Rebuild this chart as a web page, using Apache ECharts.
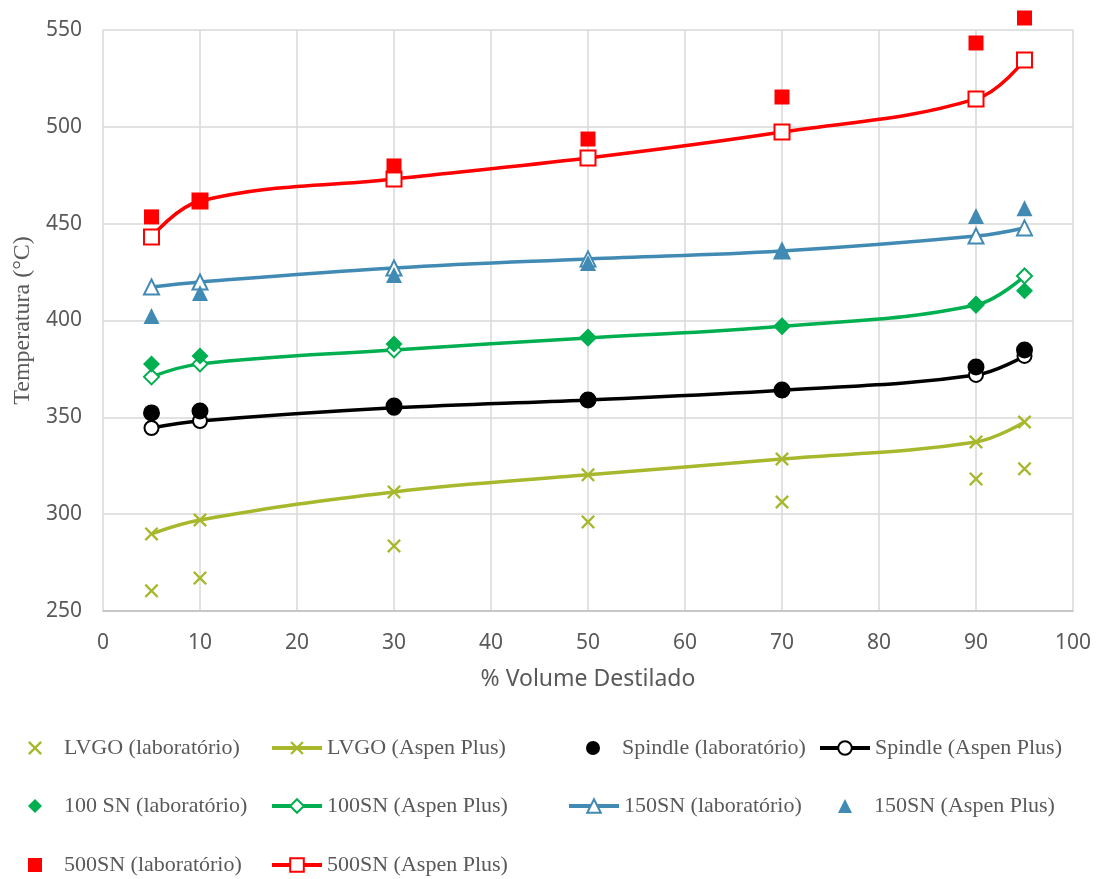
<!DOCTYPE html>
<html>
<head>
<meta charset="utf-8">
<script src="https://cdn.jsdelivr.net/npm/echarts@6/dist/echarts.min.js"></script>
<style>html,body{margin:0;padding:0;background:#fff}#c{width:1119px;height:879px}</style>
</head>
<body>
<div id="c"></div>
<script>
const xValues = [5, 10, 30, 50, 70, 90, 95];
const lvgoLab = [260.4, 267, 283.6, 296, 306.3, 318.2, 323.4];
const lvgoAspen = [289.8, 297, 311.5, 320.3, 328.5, 337.3, 347.6];
const spindleLab = [352.3, 353.3, 355.9, 359, 364.1, 376, 384.8];
const spindleAspen = [344.5, 348.1, 354.9, 359, 364, 371.9, 381.7];
const sn100Lab = [377.6, 381.7, 387.9, 391.5, 397.2, 408.5, 415.3];
const sn100Aspen = [370.9, 377.6, 384.8, 391, 397, 408, 423];
const sn150Line = [417.3, 419.9, 427.1, 431.8, 435.9, 443.6, 447.8];
const sn150Markers = [402.3, 414.2, 423.5, 429.7, 436, 454, 458];
const sn500Lab = [453.5, 461.7, 479.8, 493.7, 515.4, 543.3, 556.2];
const sn500Aspen = [443.1, 461.7, 473.1, 483.9, 497.3, 514.4, 534.5];

const names = [
  'LVGO (laboratório)', 'LVGO (Aspen Plus)', 'Spindle (laboratório)', 'Spindle (Aspen Plus)',
  '100 SN (laboratório)', '100SN (Aspen Plus)', '150SN (laboratório)', '150SN (Aspen Plus)',
  '500SN (laboratório)', '500SN (Aspen Plus)'
];

const C_LVGO = '#a7b82c', C_GREEN = '#00b050', C_BLUE = '#418ab3', C_RED = '#ff0000', C_BLACK = '#000000';
const XPATH = 'path://M0,1.2L1.2,0L5,3.8L8.8,0L10,1.2L6.2,5L10,8.8L8.8,10L5,6.2L1.2,10L0,8.8L3.8,5Z';

function pts(ys){ return xValues.map((x,i)=>[x, ys[i]]); }

function scatter(name, ys, symbol, size, color){
  return {name, type:'scatter', data:pts(ys), symbol, symbolSize:size, clip:false,
    itemStyle:{color, opacity:1}, z:3};
}
function line(name, ys, symbol, size, color, filled){
  return {name, type:'line', data:pts(ys), smooth:0.4, symbol, symbolSize:size, showSymbol:true,
    lineStyle:{color, width:3.5}, clip:false,
    itemStyle: filled ? {color} : {color:'#fff', borderColor:color, borderWidth:2},
    z:2};
}

const series = [
  scatter(names[0], lvgoLab, XPATH, 14, C_LVGO),
  line(names[1], lvgoAspen, XPATH, 14, C_LVGO, true),
  scatter(names[2], spindleLab, 'circle', 17, C_BLACK),
  line(names[3], spindleAspen, 'circle', 14, C_BLACK, false),
  scatter(names[4], sn100Lab, 'diamond', 17, C_GREEN),
  line(names[5], sn100Aspen, 'diamond', 15, C_GREEN, false),
  line(names[6], sn150Line, 'triangle', 15, C_BLUE, false),
  scatter(names[7], sn150Markers, 'triangle', 16, C_BLUE),
  scatter(names[8], sn500Lab, 'rect', 15, C_RED),
  line(names[9], sn500Aspen, 'rect', 15, C_RED, false)
];

// [x of icon start or marker centre, y centre, isLine]
const legendPos = [
  [35, 749, 0], [270, 749, 1], [593, 749, 0], [818, 749, 1],
  [35, 807, 0], [270, 807, 1], [567, 807, 1], [845, 807, 0],
  [35, 866, 0], [270, 866, 1]
];
const legends = names.map((n,i)=>{
  const p = legendPos[i];
  const base = {data:[n], selectedMode:false, padding:0, top:p[1]-12,
    textStyle:{fontFamily:'Liberation Serif', fontSize:22, color:'#595959'}};
  if (p[2]) {
    return Object.assign(base, {left:p[0], itemWidth:50, itemHeight:17,
      lineStyle:{width:4}});
  }
  base.textStyle.padding = [0,0,0,17];
  return Object.assign(base, {left:p[0]-7, itemWidth:14, itemHeight:14});
});

const chart = echarts.init(document.getElementById('c'), null, {renderer:'canvas'});
chart.setOption({
  animation:false,
  backgroundColor:'#fff',
  grid:{left:103, right:46, top:30, bottom:268, outerBoundsMode:'none', containLabel:false},
  legend: legends,
  xAxis:{type:'value', min:0, max:100, interval:10,
    name:'% Volume Destilado', nameLocation:'middle', nameGap:57,
    nameTextStyle:{fontFamily:'Noto Sans', fontSize:23, color:'#595959'},
    axisLine:{show:true, lineStyle:{color:'#bfbfbf', width:1.5}},
    axisTick:{show:false},
    axisLabel:{fontFamily:'Noto Sans', fontSize:21, color:'#595959', margin:22},
    splitLine:{show:true, lineStyle:{color:'#d9d9d9', width:1.5}}},
  yAxis:{type:'value', min:250, max:550, interval:50,
    name:'Temperatura (°C)', nameLocation:'middle', nameGap:67, nameRotate:90,
    nameTextStyle:{fontFamily:'Liberation Serif', fontSize:24, color:'#595959'},
    axisLine:{show:false}, axisTick:{show:false},
    axisLabel:{fontFamily:'Noto Sans', fontSize:21, color:'#595959', margin:21},
    splitLine:{show:true, lineStyle:{color:'#d9d9d9', width:1.5}}},
  series
});
</script>
</body>
</html>
